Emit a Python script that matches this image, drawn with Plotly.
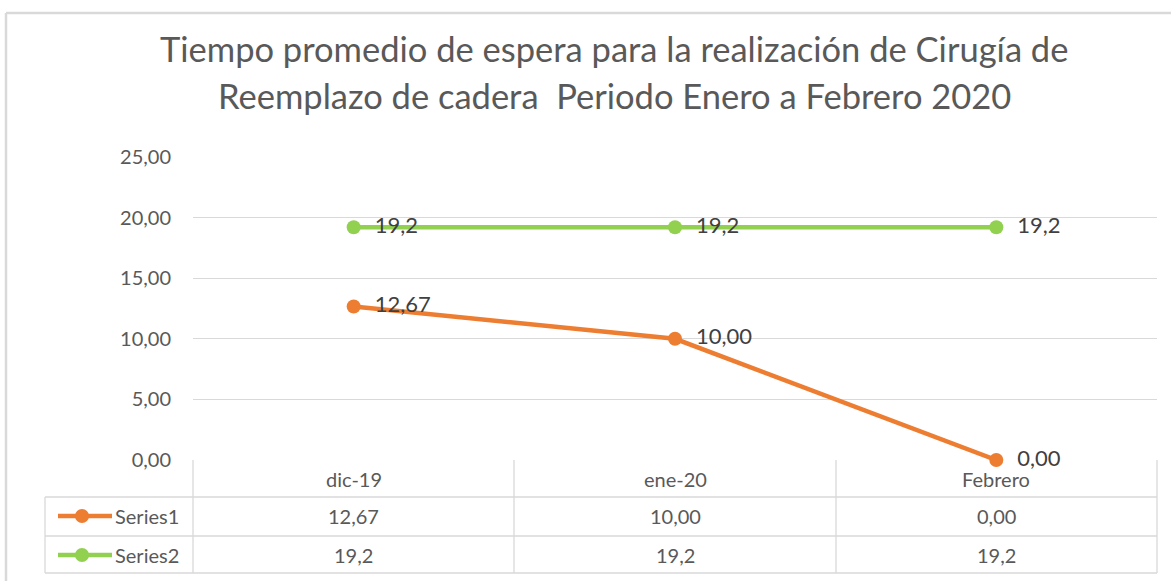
import plotly.graph_objects as go

categories = ["dic-19", "ene-20", "Febrero"]
series1 = [12.67, 10.00, 0.00]
series2 = [19.2, 19.2, 19.2]
series1_labels = ["12,67", "10,00", "0,00"]
series2_labels = ["19,2", "19,2", "19,2"]
series_names = ["Series1", "Series2"]
colors = ["#ED7D31", "#92D050"]
tick_vals = [0, 5, 10, 15, 20, 25]
title_lines = ["Tiempo promedio de espera para la realización de Cirugía de",
               "Reemplazo de cadera  Periodo Enero a Febrero 2020"]

W, H = 1171, 581
L, R, T, B = 193, 1157, 157, 460
FONT = "Lato"
TXT = "#595959"
GRID = "#d9d9d9"


def px(x):
    return (x - L) / (R - L)


def py(y):
    return (B - y) / (B - T)


fig = go.Figure()
for name, vals, labs, col in [
    (series_names[0], series1, series1_labels, colors[0]),
    (series_names[1], series2, series2_labels, colors[1]),
]:
    fig.add_trace(go.Scatter(
        x=categories, y=vals, name=name, mode="lines+markers+text",
        line=dict(color=col, width=4.5), marker=dict(color=col, size=14),
        text=["  " + t for t in labs], textposition="middle right",
        textfont=dict(family=FONT, size=22, color="#404040"),
        cliponaxis=False, showlegend=False,
    ))

shapes = []
def hline(y, x0, x1):
    shapes.append(dict(type="line", xref="paper", yref="paper", x0=px(x0), x1=px(x1),
                       y0=py(y), y1=py(y), line=dict(color=GRID, width=1.3)))

def vline(x, y0, y1):
    shapes.append(dict(type="line", xref="paper", yref="paper", x0=px(x), x1=px(x),
                       y0=py(y0), y1=py(y1), line=dict(color=GRID, width=1.3)))

# data table grid
hline(497, 45, 1157)
hline(536, 45, 1157)
hline(573, 45, 1157)
vline(45, 497, 573)
col_edges = [193, 514, 836, 1157]
for xe in col_edges:
    vline(xe, 460, 573)

# chart border
shapes.append(dict(type="line", xref="paper", yref="paper", x0=px(6), x1=px(1171),
                   y0=py(13), y1=py(13), line=dict(color=GRID, width=2.5)))
shapes.append(dict(type="line", xref="paper", yref="paper", x0=px(6), x1=px(6),
                   y0=py(13), y1=py(581), line=dict(color=GRID, width=2.5)))

annotations = []
row_centers = [479, 516, 555]
TF = dict(family=FONT, size=20, color=TXT)
for i, c in enumerate(categories):
    for rc, txt in [(row_centers[0], c), (row_centers[1], series1_labels[i]),
                    (row_centers[2], series2_labels[i])]:
        annotations.append(dict(x=c, xref="x", y=py(rc), yref="paper", text=txt,
                                xanchor="center", yanchor="middle",
                                showarrow=False, font=TF))

for name, col, yc in [(series_names[0], colors[0], row_centers[1]),
                      (series_names[1], colors[1], row_centers[2])]:
    shapes.append(dict(type="line", xref="paper", yref="paper", x0=px(58), x1=px(112),
                       y0=py(yc), y1=py(yc), line=dict(color=col, width=4.5)))
    shapes.append(dict(type="circle", xref="paper", yref="paper", x0=px(75), x1=px(89),
                       y0=py(yc - 7), y1=py(yc + 7), fillcolor=col, line=dict(width=0)))
    annotations.append(dict(x=px(113), xref="paper", y=py(yc), yref="paper", text=name,
                            showarrow=False, xanchor="left", yanchor="middle",
                            font=TF))

# title (two lines)
for txt, yc in zip(title_lines, [48, 95]):
    annotations.append(dict(x=px(614), xref="paper", y=py(yc), yref="paper", text=txt,
                            showarrow=False, xanchor="center", yanchor="middle",
                            font=dict(family=FONT, size=34.5, color=TXT)))

fig.update_layout(
    width=W, height=H,
    margin=dict(l=L, r=W - R, t=T, b=H - B, pad=0),
    paper_bgcolor="white", plot_bgcolor="white",
    separators=",.",
    xaxis=dict(range=[-0.5, 2.5], showticklabels=False, showgrid=False, zeroline=False,
               showline=False, ticks=""),
    yaxis=dict(range=[0, 25], tickvals=tick_vals, tickformat=".2f", showgrid=True,
               gridcolor=GRID, gridwidth=1.3, zeroline=False, showline=False,
               ticks="", ticklabelstandoff=21,
               tickfont=dict(family=FONT, size=20, color=TXT)),
    shapes=shapes, annotations=annotations,
)

fig.write_html("out.html", config={"displayModeBar": False},
               post_script="document.body.style.margin='0';")
